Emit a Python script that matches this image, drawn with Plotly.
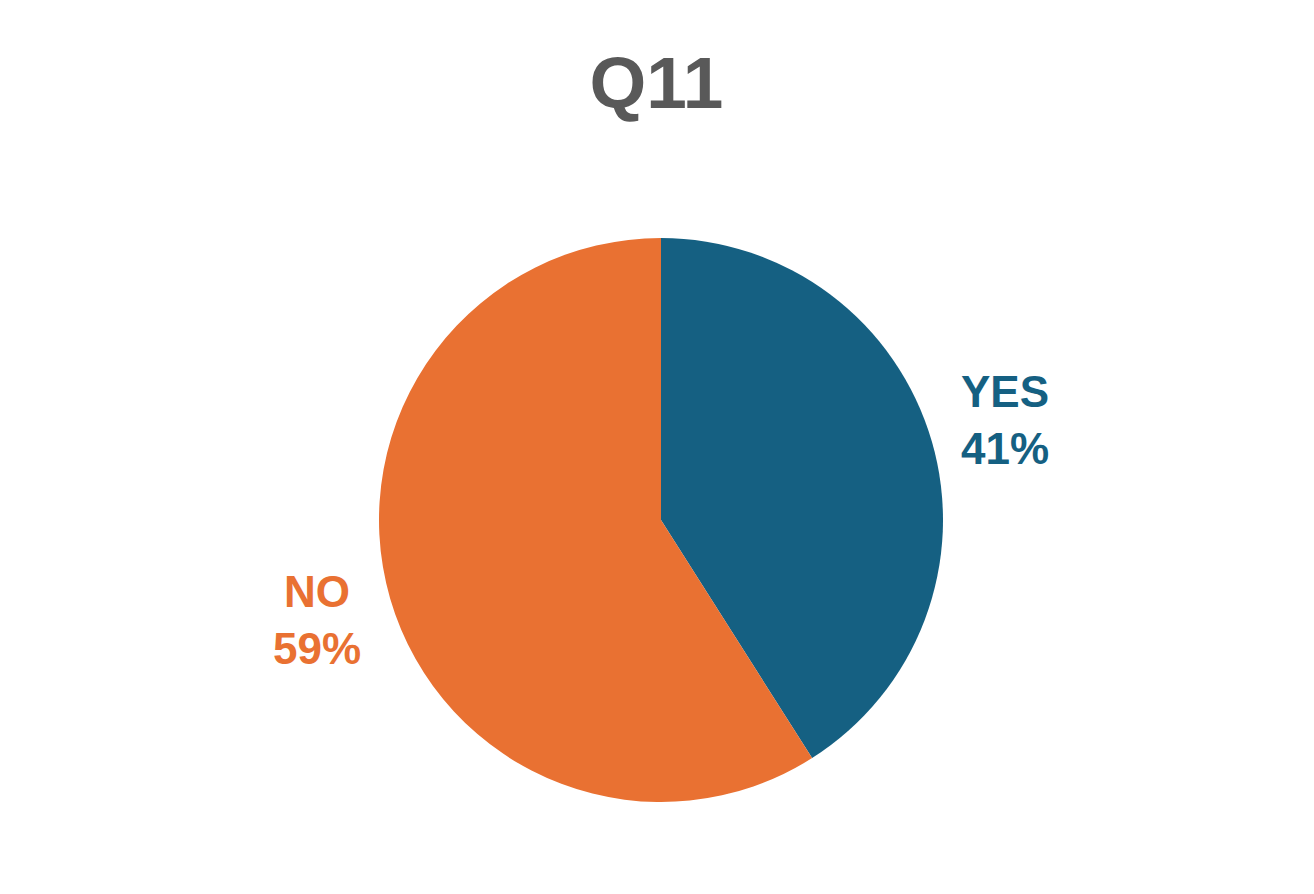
import math
import plotly.graph_objects as go

# survey answers for Q11
labels = ["YES", "NO"]
values = [41, 59]
colors = ["#156082", "#E97132"]

W, H = 1314, 894
# pie geometry in px (page has an 8px body margin)
cx, cy, rad = 653, 512, 282
label_dist = 358

fig = go.Figure()
fig.add_trace(go.Pie(
    labels=labels,
    values=values,
    sort=False,
    direction="clockwise",
    rotation=0,
    marker=dict(colors=colors, line=dict(width=0)),
    textinfo="none",
    hoverinfo="skip",
    showlegend=False,
    domain=dict(x=[(cx - rad) / W, (cx + rad) / W],
                y=[1 - (cy + rad) / H, 1 - (cy - rad) / H]),
))

# outside labels placed along each slice's mid angle
total = sum(values)
cum = 0
annots = []
for lab, val, col in zip(labels, values, colors):
    mid = (cum + val / 2) / total * 2 * math.pi
    cum += val
    px = cx + label_dist * math.sin(mid)
    py = cy - label_dist * math.cos(mid)
    annots.append(dict(
        x=px / W, y=1 - py / H, xref="paper", yref="paper",
        xanchor="center", yanchor="middle", showarrow=False,
        text="%s<br>%d%%" % (lab, round(val / total * 100)),
        font=dict(family="Liberation Sans, Arial", size=44, color=col, weight="bold"),
    ))

fig.update_layout(
    width=W, height=H,
    margin=dict(l=0, r=0, t=0, b=0),
    paper_bgcolor="white",
    title=dict(text="Q11", x=0.4935, xanchor="center", y=0.917, yanchor="middle",
               font=dict(family="Liberation Sans, Arial", size=73, color="#595959", weight="bold")),
    annotations=annots,
)

fig.write_html("out.html")
